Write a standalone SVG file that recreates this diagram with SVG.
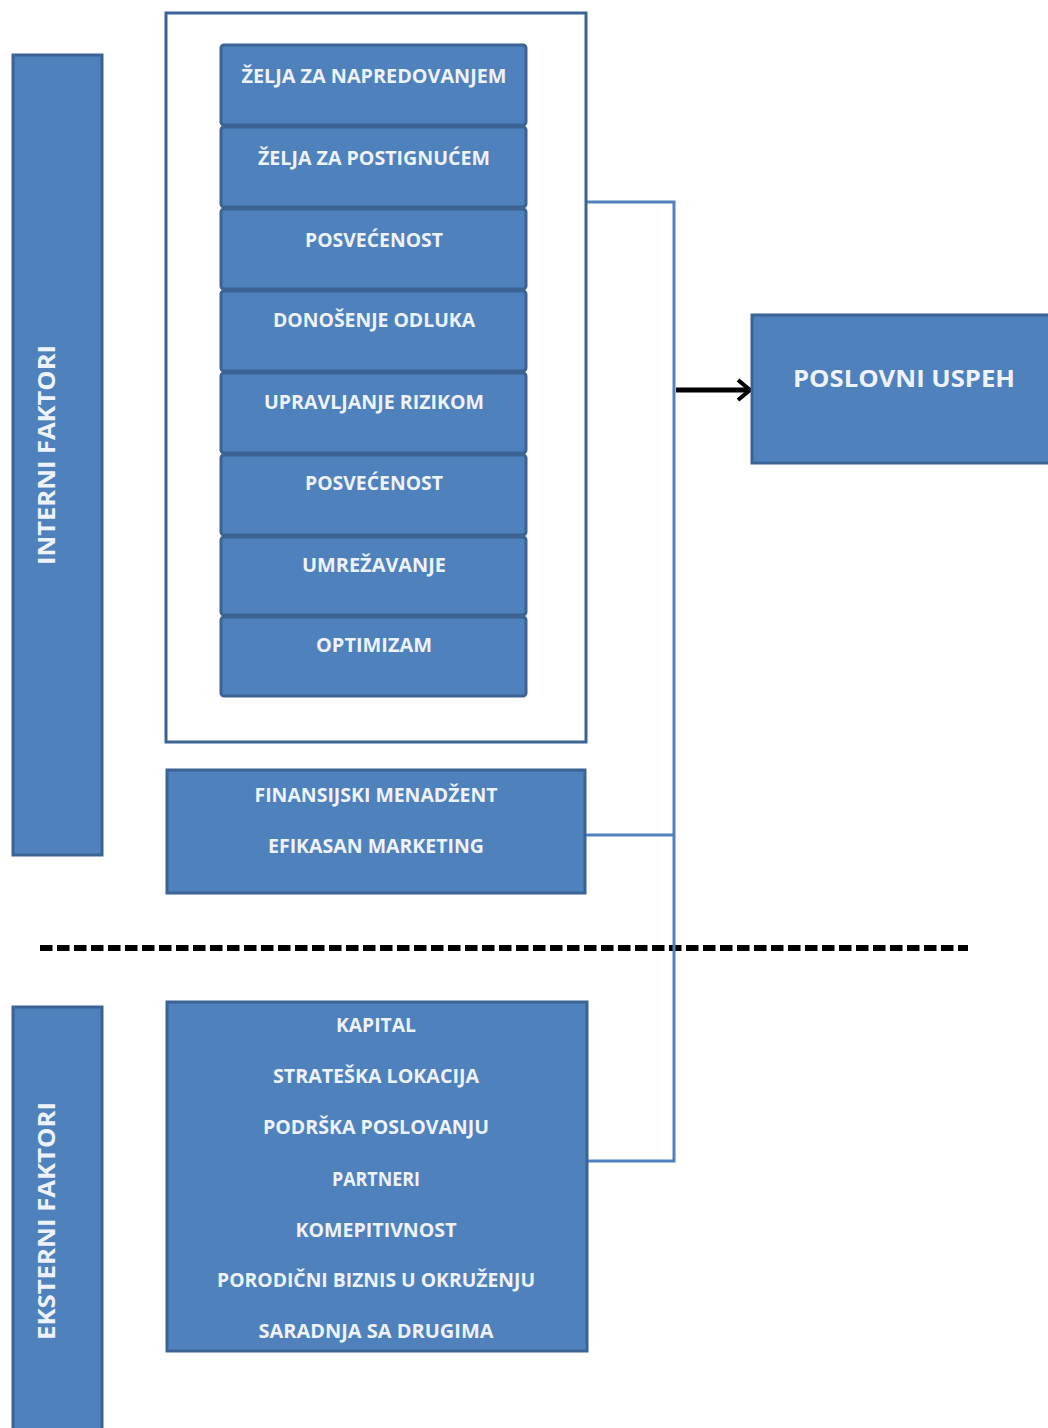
<svg xmlns="http://www.w3.org/2000/svg" width="1048" height="1428" viewBox="0 0 1048 1428">
<defs>
<style>
.box{fill:#4f81bd;stroke:#3b6394;stroke-width:3}
.t{font-family:"Open Sans","Liberation Sans",sans-serif;font-weight:bold;font-size:19px;fill:#eef3fb;text-anchor:middle}
.big{font-size:23px}
.con{fill:none;stroke:#4f81bd;stroke-width:3}
</style>
<marker id="arr" viewBox="0 0 16 24" refX="14" refY="12" markerWidth="16" markerHeight="24" markerUnits="userSpaceOnUse" orient="auto">
<path d="M2,2 L14,12 L2,22" fill="none" stroke="#000" stroke-width="4"/>
</marker>
</defs>
<rect width="1048" height="1428" fill="#fff"/>

<g id="divider">
<line x1="40" y1="948" x2="968" y2="948" stroke="#000" stroke-width="6" stroke-dasharray="12.5,4.5"/>
</g>

<g id="connectors">
<path class="con" d="M586,202 H674 V1161 H588"/>
<path class="con" d="M586,835 H674"/>
<line x1="676" y1="390" x2="750" y2="390" stroke="#000" stroke-width="5" marker-end="url(#arr)"/>
</g>

<g id="interni-faktori">
<rect class="box" x="13" y="55" width="89" height="800"/>
<text class="t big" transform="translate(55,455) rotate(-90)" textLength="220" lengthAdjust="spacingAndGlyphs">INTERNI FAKTORI</text>
</g>

<g id="eksterni-faktori">
<rect class="box" x="13" y="1007" width="89" height="430"/>
<text class="t big" transform="translate(55,1221) rotate(-90)" textLength="238" lengthAdjust="spacingAndGlyphs">EKSTERNI FAKTORI</text>
</g>

<g id="interni-grupa">
<rect x="166" y="13" width="420" height="729" fill="#fff" stroke="#3b6394" stroke-width="3"/>
</g>

<g id="n1"><rect class="box" x="221" y="45" width="305" height="80" rx="3"/><text class="t" x="374" y="83" textLength="265" lengthAdjust="spacingAndGlyphs">ŽELJA ZA NAPREDOVANJEM</text></g>
<g id="n2"><rect class="box" x="221" y="127" width="305" height="80" rx="3"/><text class="t" x="374" y="165" textLength="232" lengthAdjust="spacingAndGlyphs">ŽELJA ZA POSTIGNUĆEM</text></g>
<g id="n3"><rect class="box" x="221" y="209" width="305" height="80" rx="3"/><text class="t" x="374" y="247" textLength="138" lengthAdjust="spacingAndGlyphs">POSVEĆENOST</text></g>
<g id="n4"><rect class="box" x="221" y="291" width="305" height="80" rx="3"/><text class="t" x="374" y="327" textLength="202" lengthAdjust="spacingAndGlyphs">DONOŠENJE ODLUKA</text></g>
<g id="n5"><rect class="box" x="221" y="373" width="305" height="80" rx="3"/><text class="t" x="374" y="409" textLength="220" lengthAdjust="spacingAndGlyphs">UPRAVLJANJE RIZIKOM</text></g>
<g id="n6"><rect class="box" x="221" y="455" width="305" height="80" rx="3"/><text class="t" x="374" y="490" textLength="138" lengthAdjust="spacingAndGlyphs">POSVEĆENOST</text></g>
<g id="n7"><rect class="box" x="221" y="537" width="305" height="78" rx="3"/><text class="t" x="374" y="572" textLength="144" lengthAdjust="spacingAndGlyphs">UMREŽAVANJE</text></g>
<g id="n8"><rect class="box" x="221" y="617" width="305" height="79" rx="3"/><text class="t" x="374" y="652" textLength="116" lengthAdjust="spacingAndGlyphs">OPTIMIZAM</text></g>

<g id="finansije">
<rect class="box" x="167" y="770" width="418" height="123"/>
<text class="t" x="376" y="802" textLength="243" lengthAdjust="spacingAndGlyphs">FINANSIJSKI MENADŽENT</text>
<text class="t" x="376" y="853" textLength="216" lengthAdjust="spacingAndGlyphs">EFIKASAN MARKETING</text>
</g>

<g id="eksterni">
<rect class="box" x="167" y="1002" width="420" height="349"/>
<text class="t" x="376" y="1032" textLength="80" lengthAdjust="spacingAndGlyphs">KAPITAL</text>
<text class="t" x="376" y="1083" textLength="206" lengthAdjust="spacingAndGlyphs">STRATEŠKA LOKACIJA</text>
<text class="t" x="376" y="1134" textLength="226" lengthAdjust="spacingAndGlyphs">PODRŠKA POSLOVANJU</text>
<text class="t" x="376" y="1186" textLength="88" lengthAdjust="spacingAndGlyphs">PARTNERI</text>
<text class="t" x="376" y="1237" textLength="161" lengthAdjust="spacingAndGlyphs">KOMEPITIVNOST</text>
<text class="t" x="376" y="1287" textLength="318" lengthAdjust="spacingAndGlyphs">PORODIČNI BIZNIS U OKRUŽENJU</text>
<text class="t" x="376" y="1338" textLength="235" lengthAdjust="spacingAndGlyphs">SARADNJA SA DRUGIMA</text>
</g>

<g id="poslovni-uspeh">
<rect class="box" x="752" y="315" width="300" height="148"/>
<text class="t big" x="904" y="387" textLength="222" lengthAdjust="spacingAndGlyphs">POSLOVNI USPEH</text>
</g>
</svg>
